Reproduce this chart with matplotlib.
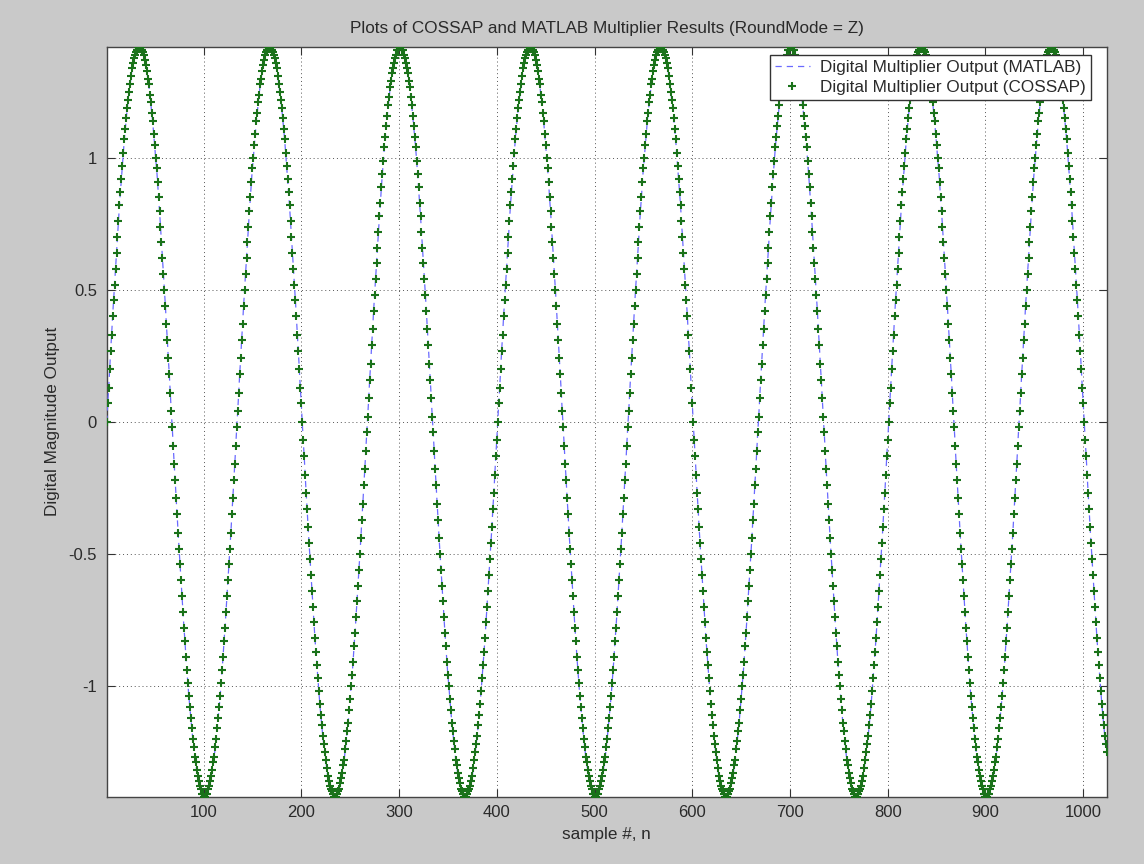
import matplotlib
matplotlib.use("Agg")
import matplotlib.pyplot as plt

# Multiplier output, samples 1..400
samples_001_400 = [
    0.00, 0.07, 0.13, 0.20, 0.27, 0.33, 0.40, 0.46, 0.52, 0.58,
    0.64, 0.70, 0.76, 0.82, 0.87, 0.92, 0.97, 1.02, 1.07, 1.11,
    1.15, 1.19, 1.22, 1.25, 1.28, 1.31, 1.34, 1.36, 1.38, 1.39,
    1.40, 1.41, 1.42, 1.42, 1.42, 1.42, 1.41, 1.40, 1.39, 1.37,
    1.35, 1.33, 1.30, 1.28, 1.24, 1.21, 1.17, 1.14, 1.09, 1.05,
    1.00, 0.96, 0.91, 0.85, 0.80, 0.74, 0.68, 0.62, 0.56, 0.50,
    0.44, 0.37, 0.31, 0.24, 0.18, 0.11, 0.04, -0.02, -0.09, -0.16,
    -0.22, -0.29, -0.35, -0.42, -0.48, -0.54, -0.60, -0.66, -0.72, -0.78,
    -0.83, -0.89, -0.94, -0.99, -1.04, -1.08, -1.12, -1.16, -1.20, -1.23,
    -1.27, -1.29, -1.32, -1.34, -1.36, -1.38, -1.39, -1.41, -1.41, -1.42,
    -1.42, -1.42, -1.41, -1.41, -1.39, -1.38, -1.36, -1.34, -1.32, -1.29,
    -1.27, -1.23, -1.20, -1.16, -1.12, -1.08, -1.04, -0.99, -0.94, -0.89,
    -0.83, -0.78, -0.72, -0.66, -0.60, -0.54, -0.48, -0.42, -0.35, -0.29,
    -0.22, -0.16, -0.09, -0.02,
    0.04, 0.11, 0.18, 0.24, 0.31, 0.37, 0.44, 0.50, 0.56, 0.62,
    0.68, 0.74, 0.80, 0.85, 0.91, 0.96, 1.00, 1.05, 1.09, 1.14,
    1.17, 1.21, 1.24, 1.28, 1.30, 1.33, 1.35, 1.37, 1.39, 1.40,
    1.41, 1.42, 1.42, 1.42, 1.42, 1.41, 1.40, 1.39, 1.38, 1.36,
    1.34, 1.31, 1.28, 1.25, 1.22, 1.19, 1.15, 1.11, 1.07, 1.02,
    0.97, 0.92, 0.87, 0.82, 0.76, 0.70, 0.64, 0.58, 0.52, 0.46,
    0.40, 0.33, 0.27, 0.20, 0.13, 0.07, 0.00, -0.07, -0.13, -0.20,
    -0.27, -0.33, -0.40, -0.46, -0.52, -0.58, -0.64, -0.70, -0.76, -0.82,
    -0.87, -0.92, -0.97, -1.02, -1.07, -1.11, -1.15, -1.19, -1.22, -1.25,
    -1.28, -1.31, -1.34, -1.36, -1.38, -1.39, -1.40, -1.41, -1.42, -1.42,
    -1.42, -1.42, -1.41, -1.40, -1.39, -1.37, -1.35, -1.33, -1.30, -1.28,
    -1.24, -1.21, -1.17, -1.14, -1.09, -1.05, -1.00, -0.96, -0.91, -0.85,
    -0.80, -0.74, -0.68, -0.62, -0.56, -0.50, -0.44, -0.37, -0.31, -0.24,
    -0.18, -0.11, -0.04,
    0.02, 0.09, 0.16, 0.22, 0.29, 0.35, 0.42, 0.48, 0.54, 0.60,
    0.66, 0.72, 0.78, 0.83, 0.89, 0.94, 0.99, 1.04, 1.08, 1.12,
    1.16, 1.20, 1.23, 1.27, 1.29, 1.32, 1.34, 1.36, 1.38, 1.39,
    1.41, 1.41, 1.42, 1.42, 1.42, 1.41, 1.41, 1.39, 1.38, 1.36,
    1.34, 1.32, 1.29, 1.27, 1.23, 1.20, 1.16, 1.12, 1.08, 1.04,
    0.99, 0.94, 0.89, 0.83, 0.78, 0.72, 0.66, 0.60, 0.54, 0.48,
    0.42, 0.35, 0.29, 0.22, 0.16, 0.09, 0.02, -0.04, -0.11, -0.18,
    -0.24, -0.31, -0.37, -0.44, -0.50, -0.56, -0.62, -0.68, -0.74, -0.80,
    -0.85, -0.91, -0.96, -1.00, -1.05, -1.09, -1.14, -1.17, -1.21, -1.24,
    -1.28, -1.30, -1.33, -1.35, -1.37, -1.39, -1.40, -1.41, -1.42, -1.42,
    -1.42, -1.42, -1.41, -1.40, -1.39, -1.38, -1.36, -1.34, -1.31, -1.28,
    -1.25, -1.22, -1.19, -1.15, -1.11, -1.07, -1.02, -0.97, -0.92, -0.87,
    -0.82, -0.76, -0.70, -0.64, -0.58, -0.52, -0.46, -0.40, -0.33, -0.27,
    -0.20, -0.13, -0.07,
]

# Multiplier output, samples 401..800
samples_401_800 = [
    0.00, 0.07, 0.13, 0.20, 0.27, 0.33, 0.40, 0.46, 0.52, 0.58,
    0.64, 0.70, 0.76, 0.82, 0.87, 0.92, 0.97, 1.02, 1.07, 1.11,
    1.15, 1.19, 1.22, 1.25, 1.28, 1.31, 1.34, 1.36, 1.38, 1.39,
    1.40, 1.41, 1.42, 1.42, 1.42, 1.42, 1.41, 1.40, 1.39, 1.37,
    1.35, 1.33, 1.30, 1.28, 1.24, 1.21, 1.17, 1.14, 1.09, 1.05,
    1.00, 0.96, 0.91, 0.85, 0.80, 0.74, 0.68, 0.62, 0.56, 0.50,
    0.44, 0.37, 0.31, 0.24, 0.18, 0.11, 0.04, -0.02, -0.09, -0.16,
    -0.22, -0.29, -0.35, -0.42, -0.48, -0.54, -0.60, -0.66, -0.72, -0.78,
    -0.83, -0.89, -0.94, -0.99, -1.04, -1.08, -1.12, -1.16, -1.20, -1.23,
    -1.27, -1.29, -1.32, -1.34, -1.36, -1.38, -1.39, -1.41, -1.41, -1.42,
    -1.42, -1.42, -1.41, -1.41, -1.39, -1.38, -1.36, -1.34, -1.32, -1.29,
    -1.27, -1.23, -1.20, -1.16, -1.12, -1.08, -1.04, -0.99, -0.94, -0.89,
    -0.83, -0.78, -0.72, -0.66, -0.60, -0.54, -0.48, -0.42, -0.35, -0.29,
    -0.22, -0.16, -0.09, -0.02,
    0.04, 0.11, 0.18, 0.24, 0.31, 0.37, 0.44, 0.50, 0.56, 0.62,
    0.68, 0.74, 0.80, 0.85, 0.91, 0.96, 1.00, 1.05, 1.09, 1.14,
    1.17, 1.21, 1.24, 1.28, 1.30, 1.33, 1.35, 1.37, 1.39, 1.40,
    1.41, 1.42, 1.42, 1.42, 1.42, 1.41, 1.40, 1.39, 1.38, 1.36,
    1.34, 1.31, 1.28, 1.25, 1.22, 1.19, 1.15, 1.11, 1.07, 1.02,
    0.97, 0.92, 0.87, 0.82, 0.76, 0.70, 0.64, 0.58, 0.52, 0.46,
    0.40, 0.33, 0.27, 0.20, 0.13, 0.07, 0.00, -0.07, -0.13, -0.20,
    -0.27, -0.33, -0.40, -0.46, -0.52, -0.58, -0.64, -0.70, -0.76, -0.82,
    -0.87, -0.92, -0.97, -1.02, -1.07, -1.11, -1.15, -1.19, -1.22, -1.25,
    -1.28, -1.31, -1.34, -1.36, -1.38, -1.39, -1.40, -1.41, -1.42, -1.42,
    -1.42, -1.42, -1.41, -1.40, -1.39, -1.37, -1.35, -1.33, -1.30, -1.28,
    -1.24, -1.21, -1.17, -1.14, -1.09, -1.05, -1.00, -0.96, -0.91, -0.85,
    -0.80, -0.74, -0.68, -0.62, -0.56, -0.50, -0.44, -0.37, -0.31, -0.24,
    -0.18, -0.11, -0.04,
    0.02, 0.09, 0.16, 0.22, 0.29, 0.35, 0.42, 0.48, 0.54, 0.60,
    0.66, 0.72, 0.78, 0.83, 0.89, 0.94, 0.99, 1.04, 1.08, 1.12,
    1.16, 1.20, 1.23, 1.27, 1.29, 1.32, 1.34, 1.36, 1.38, 1.39,
    1.41, 1.41, 1.42, 1.42, 1.42, 1.41, 1.41, 1.39, 1.38, 1.36,
    1.34, 1.32, 1.29, 1.27, 1.23, 1.20, 1.16, 1.12, 1.08, 1.04,
    0.99, 0.94, 0.89, 0.83, 0.78, 0.72, 0.66, 0.60, 0.54, 0.48,
    0.42, 0.35, 0.29, 0.22, 0.16, 0.09, 0.02, -0.04, -0.11, -0.18,
    -0.24, -0.31, -0.37, -0.44, -0.50, -0.56, -0.62, -0.68, -0.74, -0.80,
    -0.85, -0.91, -0.96, -1.00, -1.05, -1.09, -1.14, -1.17, -1.21, -1.24,
    -1.28, -1.30, -1.33, -1.35, -1.37, -1.39, -1.40, -1.41, -1.42, -1.42,
    -1.42, -1.42, -1.41, -1.40, -1.39, -1.38, -1.36, -1.34, -1.31, -1.28,
    -1.25, -1.22, -1.19, -1.15, -1.11, -1.07, -1.02, -0.97, -0.92, -0.87,
    -0.82, -0.76, -0.70, -0.64, -0.58, -0.52, -0.46, -0.40, -0.33, -0.27,
    -0.20, -0.13, -0.07,
]

# Multiplier output, samples 801..1024
samples_801_1024 = [
    0.00, 0.07, 0.13, 0.20, 0.27, 0.33, 0.40, 0.46, 0.52, 0.58,
    0.64, 0.70, 0.76, 0.82, 0.87, 0.92, 0.97, 1.02, 1.07, 1.11,
    1.15, 1.19, 1.22, 1.25, 1.28, 1.31, 1.34, 1.36, 1.38, 1.39,
    1.40, 1.41, 1.42, 1.42, 1.42, 1.42, 1.41, 1.40, 1.39, 1.37,
    1.35, 1.33, 1.30, 1.28, 1.24, 1.21, 1.17, 1.14, 1.09, 1.05,
    1.00, 0.96, 0.91, 0.85, 0.80, 0.74, 0.68, 0.62, 0.56, 0.50,
    0.44, 0.37, 0.31, 0.24, 0.18, 0.11, 0.04, -0.02, -0.09, -0.16,
    -0.22, -0.29, -0.35, -0.42, -0.48, -0.54, -0.60, -0.66, -0.72, -0.78,
    -0.83, -0.89, -0.94, -0.99, -1.04, -1.08, -1.12, -1.16, -1.20, -1.23,
    -1.27, -1.29, -1.32, -1.34, -1.36, -1.38, -1.39, -1.41, -1.41, -1.42,
    -1.42, -1.42, -1.41, -1.41, -1.39, -1.38, -1.36, -1.34, -1.32, -1.29,
    -1.27, -1.23, -1.20, -1.16, -1.12, -1.08, -1.04, -0.99, -0.94, -0.89,
    -0.83, -0.78, -0.72, -0.66, -0.60, -0.54, -0.48, -0.42, -0.35, -0.29,
    -0.22, -0.16, -0.09, -0.02,
    0.04, 0.11, 0.18, 0.24, 0.31, 0.37, 0.44, 0.50, 0.56, 0.62,
    0.68, 0.74, 0.80, 0.85, 0.91, 0.96, 1.00, 1.05, 1.09, 1.14,
    1.17, 1.21, 1.24, 1.28, 1.30, 1.33, 1.35, 1.37, 1.39, 1.40,
    1.41, 1.42, 1.42, 1.42, 1.42, 1.41, 1.40, 1.39, 1.38, 1.36,
    1.34, 1.31, 1.28, 1.25, 1.22, 1.19, 1.15, 1.11, 1.07, 1.02,
    0.97, 0.92, 0.87, 0.82, 0.76, 0.70, 0.64, 0.58, 0.52, 0.46,
    0.40, 0.33, 0.27, 0.20, 0.13, 0.07, 0.00, -0.07, -0.13, -0.20,
    -0.27, -0.33, -0.40, -0.46, -0.52, -0.58, -0.64, -0.70, -0.76, -0.82,
    -0.87, -0.92, -0.97, -1.02, -1.07, -1.11, -1.15, -1.19, -1.22, -1.25,
]

matlab_output = samples_001_400 + samples_401_800 + samples_801_1024
cossap_output = list(matlab_output)
sample_index = list(range(1, len(matlab_output) + 1))

x_ticks = [100, 200, 300, 400, 500, 600, 700, 800, 900, 1000]
y_ticks = [-1, -0.5, 0, 0.5, 1]
y_tick_labels = ["-1", "-0.5", "0", "0.5", "1"]

title_text = "Plots of COSSAP and MATLAB Multiplier Results (RoundMode = Z)"
x_label = "sample #, n"
y_label = "Digital Magnitude Output"
legend_labels = ["Digital Multiplier Output (MATLAB)",
                 "Digital Multiplier Output (COSSAP)"]

plt.rcParams["font.family"] = ["Liberation Sans", "DejaVu Sans"]
plt.rcParams["font.size"] = 12
plt.rcParams["axes.unicode_minus"] = False

text_color = "#2a2a2a"
fig = plt.figure(figsize=(11.44, 8.64), dpi=100, facecolor="#c9c9c9")
ax = fig.add_axes([0.0933, 0.0779, 0.8741, 0.8677])
ax.set_facecolor("white")

ax.plot(sample_index, matlab_output, linestyle=(0, (5, 4)), color="#6a6aff",
        linewidth=0.9, label=legend_labels[0], zorder=3)
ax.plot(sample_index, cossap_output, linestyle="none", marker="+",
        markersize=5.5, markeredgewidth=1.5, color="#1a721a",
        label=legend_labels[1], zorder=4)

ax.set_xlim(sample_index[0], sample_index[-1])
ax.set_ylim(min(matlab_output), max(matlab_output))
ax.set_xticks(x_ticks)
ax.set_yticks(y_ticks)
ax.set_yticklabels(y_tick_labels)

ax.tick_params(direction="in", length=6, width=0.8, color="#333333",
               labelcolor=text_color, labelsize=12, top=True, right=True)
ax.tick_params(axis="y", pad=7)
ax.tick_params(axis="x", pad=6)
ax.grid(True, linestyle=(0, (1, 3)), color="#555555", linewidth=0.7)
ax.set_axisbelow(True)
for sp in ax.spines.values():
    sp.set_color("#444444")
    sp.set_linewidth(1.0)

ax.set_title(title_text, fontsize=12.3, color=text_color, pad=10)
ax.set_xlabel(x_label, fontsize=12.3, color=text_color, labelpad=5)
ax.set_ylabel(y_label, fontsize=12.3, color=text_color, labelpad=6)

leg = ax.legend(loc="upper right", bbox_to_anchor=(0.984, 0.989),
                borderaxespad=0, fancybox=False, framealpha=1,
                edgecolor="#333333", fontsize=12.3, handlelength=2.0,
                handletextpad=0.6, borderpad=0.3, labelspacing=0.25)
leg.get_frame().set_linewidth(1.0)
for t in leg.get_texts():
    t.set_color(text_color)

fig.savefig("out.png", dpi=100, facecolor=fig.get_facecolor())
